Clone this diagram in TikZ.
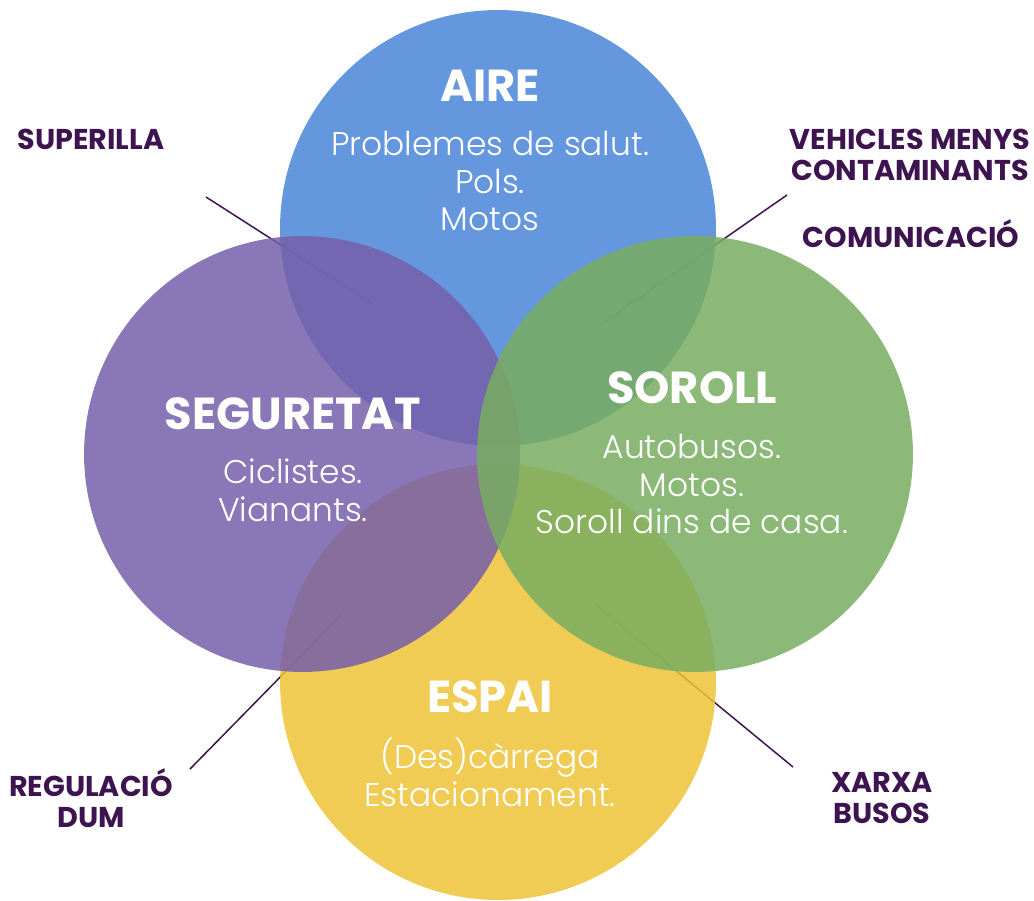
\documentclass[tikz,border=0pt]{standalone}
\usepackage{fontspec}
\setmainfont{Poppins}
\newfontfamily\lightfont{Poppins Light}
\definecolor{blau}{RGB}{74,133,216}
\definecolor{lila}{RGB}{118,95,171}
\definecolor{verd}{RGB}{120,173,96}
\definecolor{groc}{RGB}{237,195,54}
\definecolor{fosc}{RGB}{62,20,80}
\tikzset{
	cercle/.style={circle,minimum size=8.72cm,inner sep=0pt,fill opacity=0.85},
	titol/.style={text=white,font=\bfseries\fontsize{25.5}{28}\selectfont},
	cos/.style={text=white,align=center,font=\lightfont\fontsize{18.7}{21.5}\selectfont},
	etiqueta/.style={text=fosc,align=center,font=\bfseries\fontsize{16.3}{17.9}\selectfont},
	linia/.style={draw=fosc,line width=0.85pt}
}
\begin{document}
\begin{tikzpicture}[x=0.02cm,y=-0.02cm]
		\useasboundingbox (0,0) rectangle (1034,900);
		\coordinate (p1) at (206,197);
		\coordinate (p2) at (373,304);
		\coordinate (p3) at (787,195);
		\coordinate (p4) at (600,325);
		\coordinate (p5) at (190,769);
		\coordinate (p6) at (342,614);
		\coordinate (p7) at (793,767);
		\coordinate (p8) at (595,604);
		\draw [linia] (p1) -- (p2);
		\draw [linia] (p3) -- (p4);
		\draw [linia] (p5) -- (p6);
		\draw [linia] (p7) -- (p8);
		\node (c1) at (498,228) [cercle,fill=blau] {};
		\node (c4) at (498,682) [cercle,fill=groc] {};
		\node (c2) at (302,454) [cercle,fill=lila] {};
		\node (c3) at (695,454) [cercle,fill=verd] {};
		\node (t1) at (490,86) [titol] {AIRE};
		\node (b1) at (490,181) [cos] {Problemes de salut.\\Pols.\\Motos};
		\node (t2) at (293,414) [titol] {SEGURETAT};
		\node (b2) at (293,490) [cos] {Ciclistes.\\Vianants.};
		\node (t3) at (692,388) [titol] {SOROLL};
		\node (b3) at (692,484) [cos] {Autobusos.\\Motos.\\Soroll dins de casa.};
		\node (t4) at (490,697) [titol] {ESPAI};
		\node (b4) at (490,772) [cos] {(Des)càrrega\\Estacionament.};
		\node (e1) at (91,139) [etiqueta] {SUPERILLA};
		\node (e2) at (910,155) [etiqueta] {VEHICLES MENYS\\CONTAMINANTS};
		\node (e3) at (911,234) [etiqueta] {COMUNICACIÓ};
		\node (e4) at (91,798) [etiqueta] {REGULACIÓ\\DUM};
		\node (e5) at (882,798) [etiqueta] {XARXA\\BUSOS};
\end{tikzpicture}
\end{document}
